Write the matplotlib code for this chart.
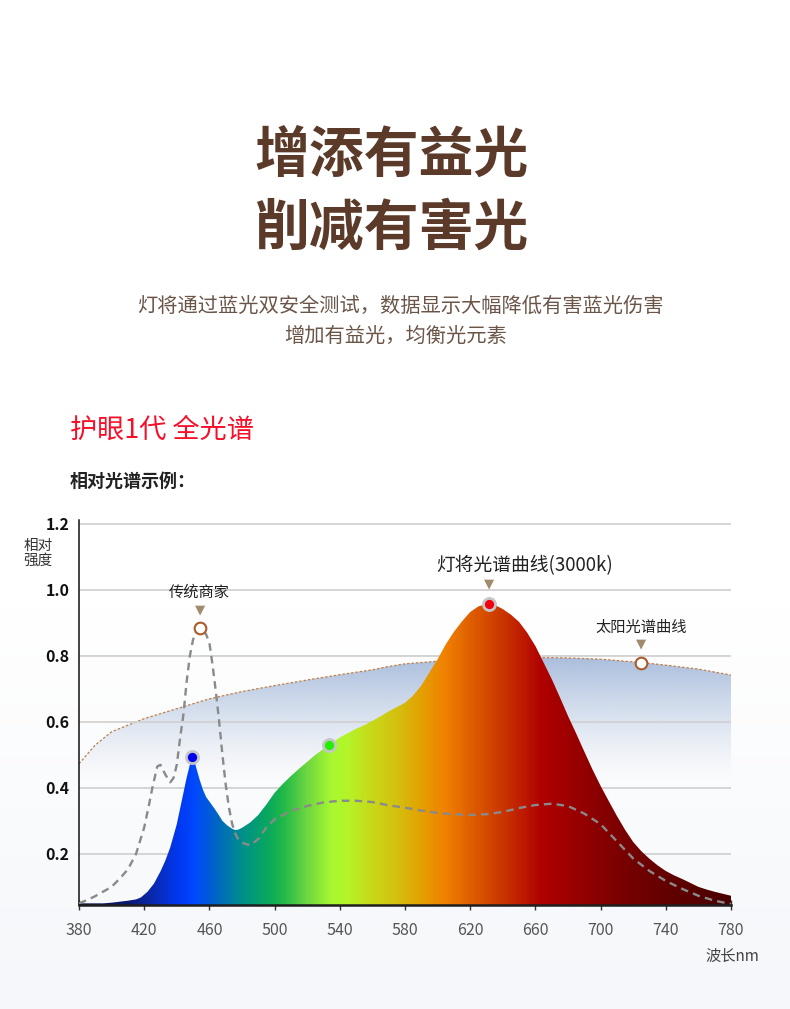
import numpy as np
import matplotlib
matplotlib.use("Agg")
import matplotlib.pyplot as plt
from matplotlib.colors import LinearSegmentedColormap, to_rgb

plt.rcParams['font.family'] = ['Noto Sans CJK SC', 'DejaVu Sans']

# --- datos ---
# espectro de la lampara (3000k)
led_nm = [380, 385, 390, 395, 400, 405, 410, 415, 418, 422, 426, 430, 433, 436,
          440, 443, 446, 448, 449.5, 451, 452, 454, 456, 458, 461, 463, 466, 468,
          471, 474, 476, 478, 480, 485, 490, 495, 500, 505, 510, 515, 520, 525,
          530, 535, 540, 545, 550, 555, 560, 565, 570, 575, 580, 585, 590, 595,
          600, 605, 610, 615, 620, 625, 630, 635, 640, 645, 650, 655, 660, 665,
          670, 675, 680, 685, 690, 695, 700, 705, 710, 715, 720, 725, 730, 735,
          740, 745, 750, 755, 760, 765, 770, 775, 780]
led_val = [0.05, 0.05, 0.05, 0.05, 0.052, 0.055, 0.058, 0.062, 0.068, 0.085, 0.11,
           0.147, 0.18, 0.22, 0.29, 0.36, 0.43, 0.47, 0.495, 0.478, 0.46, 0.425,
           0.395, 0.372, 0.352, 0.338, 0.316, 0.3, 0.286, 0.276, 0.272, 0.274,
           0.279, 0.295, 0.318, 0.35, 0.385, 0.412, 0.436, 0.458, 0.479, 0.5,
           0.518, 0.535, 0.553, 0.566, 0.579, 0.59, 0.603, 0.617, 0.632, 0.645,
           0.658, 0.68, 0.71, 0.75, 0.79, 0.835, 0.873, 0.905, 0.933, 0.95, 0.958,
           0.955, 0.942, 0.925, 0.903, 0.87, 0.83, 0.78, 0.73, 0.675, 0.618, 0.565,
           0.51, 0.456, 0.406, 0.36, 0.315, 0.273, 0.236, 0.208, 0.185, 0.165,
           0.148, 0.135, 0.124, 0.112, 0.1, 0.092, 0.085, 0.079, 0.073]

# espectro de la lampara tradicional (linea discontinua)
trad_nm = [380, 385, 390, 395, 400, 405, 410, 415, 420, 423, 425, 428, 430, 433,
           436, 438, 440, 442, 444, 446, 448, 450, 452, 454, 456, 458, 460, 462,
           464, 466, 468, 470, 472, 474, 476, 478, 481, 485, 490, 495, 500, 510,
           520, 530, 540, 550, 560, 570, 580, 590, 600, 610, 620, 630, 640, 650,
           660, 670, 680, 690, 700, 710, 720, 730, 740, 750, 760, 770, 780]
trad_val = [0.05, 0.06, 0.072, 0.086, 0.1, 0.125, 0.153, 0.2, 0.28, 0.35, 0.4,
            0.465, 0.47, 0.44, 0.417, 0.43, 0.47, 0.55, 0.62, 0.72, 0.80, 0.85,
            0.875, 0.885, 0.88, 0.865, 0.84, 0.77, 0.69, 0.6, 0.5, 0.41, 0.34,
            0.29, 0.26, 0.242, 0.232, 0.226, 0.245, 0.28, 0.305, 0.33, 0.345,
            0.356, 0.361, 0.361, 0.357, 0.347, 0.34, 0.331, 0.324, 0.32, 0.318,
            0.32, 0.327, 0.339, 0.348, 0.352, 0.345, 0.322, 0.29, 0.238, 0.186,
            0.148, 0.118, 0.094, 0.073, 0.058, 0.048]

# espectro solar
sun_nm = [380, 390, 400, 420, 440, 460, 480, 500, 520, 540, 560, 570, 580, 600,
          620, 640, 660, 680, 700, 725, 740, 760, 780]
sun_val = [0.473, 0.53, 0.57, 0.61, 0.64, 0.67, 0.692, 0.71, 0.727, 0.743, 0.758,
           0.768, 0.776, 0.784, 0.792, 0.795, 0.795, 0.794, 0.79, 0.78, 0.772,
           0.76, 0.742]

# puntos destacados
led_dots_nm = [449.5, 533.5, 631.5]
led_dots_col = ['#0000f0', '#22f000', '#f00010']
trad_peak_nm = 454
sun_mark_nm = 725

x_ticks = [380, 420, 460, 500, 540, 580, 620, 660, 700, 740, 780]
y_ticks = [0.2, 0.4, 0.6, 0.8, 1.0, 1.2]

# colores del espectro visible
spec_nm = [380, 410, 425, 440, 450, 465, 480, 495, 505, 520, 535, 545, 560,
           575, 590, 605, 620, 635, 650, 665, 690, 715, 745, 780]
spec_col = ['#0a1040', '#0a1a70', '#0a2ab0', '#0038f0', '#0048ff', '#0068c0',
            '#00908a', '#08a860', '#20b848', '#70d840', '#a8f830', '#b4f428',
            '#c8d818', '#d4c010', '#e4a000', '#f08000', '#e06000', '#d04000',
            '#c02000', '#ae0000', '#940000', '#780000', '#600000', '#480000']

W, H = 790, 1009
fig = plt.figure(figsize=(W / 100, H / 100), dpi=100)

# fondo con degradado suave
bg = fig.add_axes([0, 0, 1, 1], zorder=-10)
g = np.linspace(0, 1, 256).reshape(-1, 1)
g = np.clip((g - 0.6) / 0.4, 0, 1)
top, bot = np.array(to_rgb('#ffffff')), np.array(to_rgb('#f5f7fa'))
bg_img = top + (bot - top) * g[:, :, None]
bg.imshow(bg_img, aspect='auto', extent=[0, 1, 0, 1])
bg.set_axis_off()


def fy(py):
    return 1 - py / H


# textos de cabecera
brown = '#5b3a29'
fig.text(392 / W, fy(155), '增添有益光', ha='center', va='center', fontsize=39.5,
         fontweight='bold', color=brown)
fig.text(392 / W, fy(228), '削减有害光', ha='center', va='center', fontsize=39.5,
         fontweight='bold', color=brown)
fig.text(400 / W, fy(306), '灯将通过蓝光双安全测试，数据显示大幅降低有害蓝光伤害',
         ha='center', va='center', fontsize=14.6, color='#6a5548')
fig.text(396 / W, fy(336), '增加有益光，均衡光元素', ha='center', va='center',
         fontsize=14.6, color='#6a5548')
fig.text(70 / W, fy(430), '护眼1代 全光谱', ha='left', va='center', fontsize=19.5,
         color='#f5102a')
fig.text(70 / W, fy(481), '相对光谱示例：', ha='left', va='center', fontsize=13,
         fontweight='bold', color='#222222')
fig.text(38 / W, fy(553), '相对\n强度', ha='center', va='center', fontsize=10.5,
         color='#333333', linespacing=1.1)
fig.text(759 / W, fy(956), '波长nm', ha='right', va='center', fontsize=11,
         color='#444444')

# --- grafico ---
ylo, yhi = 0.045, 1.212
ax = fig.add_axes([79 / W, (H - 905) / H, 652 / W, 385 / H])
ax.set_xlim(380, 780)
ax.set_ylim(ylo, yhi)
ax.patch.set_alpha(0)
ax.set_axisbelow(True)

# relleno del sol con degradado vertical
sun_poly = ax.fill_between(sun_nm, ylo, sun_val, facecolor='none', edgecolor='none')
yy = np.linspace(ylo, yhi, 400)
a = np.clip((yy - 0.42) / (0.80 - 0.42), 0, 1) ** 1.3
sun_img = np.zeros((400, 2, 4))
sun_img[:, :, :3] = to_rgb('#a9bddc')
sun_img[:, :, 3] = a[:, None]
im = ax.imshow(sun_img, origin='lower', aspect='auto', extent=[380, 780, ylo, yhi],
               zorder=0.2, interpolation='bilinear')
im.set_clip_path(sun_poly.get_paths()[0], transform=ax.transData)
ax.plot(sun_nm, sun_val, color='#c0804a', lw=0.9, ls=(0, (2, 1.5)), zorder=0.3)

# cuadricula
ax.yaxis.grid(True, color='#d2d2d2', lw=1.3)

# relleno del espectro de la lampara
pos = [(n - 380) / 400 for n in spec_nm]
cmap = LinearSegmentedColormap.from_list('espectro', list(zip(pos, spec_col)))
led_poly = ax.fill_between(led_nm, ylo, led_val, facecolor='none', edgecolor='none')
grad = np.linspace(0, 1, 800).reshape(1, -1)
im2 = ax.imshow(grad, cmap=cmap, origin='lower', aspect='auto',
                extent=[380, 780, ylo, yhi], zorder=2, interpolation='bilinear')
im2.set_clip_path(led_poly.get_paths()[0], transform=ax.transData)

# linea discontinua tradicional
ax.plot(trad_nm, trad_val, color='#8a8a8a', lw=1.7, ls=(0, (3.2, 2.2)), zorder=3)

# puntos sobre el espectro de la lampara
led_dots_val = np.interp(led_dots_nm, led_nm, led_val)
for n, v, c in zip(led_dots_nm, led_dots_val, led_dots_col):
    ax.plot(n, v, 'o', ms=8.7, mfc=c, mec='#c6c6c6', mew=2.0, zorder=5)

# circulos vacios
trad_peak_val = np.interp(trad_peak_nm, trad_nm, trad_val)
sun_mark_val = np.interp(sun_mark_nm, sun_nm, sun_val)
for n, v in [(trad_peak_nm, trad_peak_val), (sun_mark_nm, sun_mark_val)]:
    ax.plot(n, v, 'o', ms=8.4, mfc='white', mec='#a85c2c', mew=1.5, zorder=5)

# etiquetas con triangulo
tri = '#a08c6c'
notes = [(trad_peak_nm, trad_peak_val, '传统商家', 11, 0, 12.8, 25.5),
         (led_dots_nm[2], led_dots_val[2], '灯将光谱曲线(3000k)', 13.5, 26, 14.5, 27.5),
         (sun_mark_nm, sun_mark_val, '太阳光谱曲线', 11, 0, 13.2, 25)]
for n, v, txt, fs, dx, dt, dl in notes:
    ax.annotate('\u25bc', xy=(n, v), xytext=(0, dt), textcoords='offset points',
                ha='center', va='center', fontsize=9.5, color=tri,
                family=['DejaVu Sans'], zorder=6)
    ax.annotate(txt, xy=(n, v), xytext=(dx, dl), textcoords='offset points',
                ha='center', va='center', fontsize=fs, color='#222222', zorder=6)

# ejes
ax.set_xticks(x_ticks)
ax.set_yticks(y_ticks)
ax.set_yticklabels([f'{t:.1f}' for t in y_ticks])
ax.tick_params(axis='y', length=0, pad=7, labelsize=11.5, labelcolor='#111111')
ax.tick_params(axis='x', direction='inout', length=7, width=1, color='#333333',
               pad=9, labelsize=11.5, labelcolor='#555555')
for lab in ax.get_yticklabels():
    lab.set_fontweight('bold')
for s in ['top', 'right']:
    ax.spines[s].set_visible(False)
ax.spines['left'].set_color('#111111')
ax.spines['left'].set_linewidth(1.1)
ax.spines['bottom'].set_color('#1e1e1e')
ax.spines['bottom'].set_linewidth(1.8)
ax.spines['bottom'].set_zorder(4)

fig.savefig('out.png', dpi=100)
